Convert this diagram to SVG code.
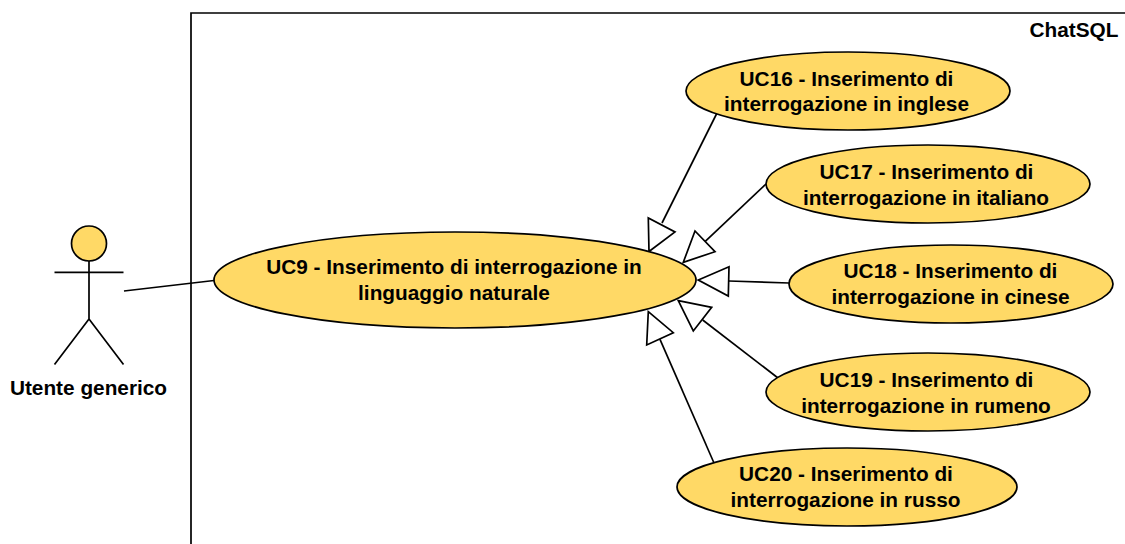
<svg xmlns="http://www.w3.org/2000/svg" width="1125" height="544" viewBox="0 0 1125 544">
<style>
.n{fill:#ffd966;stroke:#000;stroke-width:1.7}
.l{fill:none;stroke:#000;stroke-width:1.7}
.h{fill:#fff;stroke:#000;stroke-width:1.7}
text{font-family:"Liberation Sans",Arial,sans-serif;font-weight:bold;font-size:20.8px;fill:#000;text-anchor:middle}
</style>
<rect width="1125" height="544" fill="#fff"/>
<g id="system"><path class="l" d="M191 544V13H1125"/><text x="1074" y="37">ChatSQL</text></g>
<g id="connectors">
<path class="l" d="M124 291L214 280.500"/>
<path class="l" d="M717 113L662 223"/><polygon class="h" points="649,251.500 648.300,218 675,232"/>
<path class="l" d="M766 184L705 241.700"/><polygon class="h" points="683.300,262.300 695,231 715,251.700"/>
<path class="l" d="M789 283L729 281"/><polygon class="h" points="698.300,280 729,266.700 728.300,296"/>
<path class="l" d="M778 378L702.700 320"/><polygon class="h" points="678.300,300.700 711.700,307.300 693.300,331"/>
<path class="l" d="M714 463L660 339.300"/><polygon class="h" points="648.300,311.700 673.300,332.700 646.700,345"/>
</g>
<g id="actor"><circle class="n" cx="89" cy="243.500" r="17.500"/><path class="l" d="M89 261V319M54.500 272.300H123.500M89 319L54.500 364.500M89 319L123.500 364.500"/><text x="88.500" y="395">Utente generico</text></g>
<g id="uc9"><ellipse class="n" cx="455" cy="280" rx="241" ry="48"/><text x="454" y="274">UC9 - Inserimento di interrogazione in</text><text x="454" y="300">linguaggio naturale</text></g>
<g id="uc16"><ellipse class="n" cx="848" cy="91" rx="162" ry="39"/><text x="846.500" y="86">UC16 - Inserimento di</text><text x="846.500" y="111">interrogazione in inglese</text></g>
<g id="uc17"><ellipse class="n" cx="928" cy="184" rx="162" ry="39"/><text x="926.500" y="179">UC17 - Inserimento di</text><text x="926" y="205">interrogazione in italiano</text></g>
<g id="uc18"><ellipse class="n" cx="951" cy="284" rx="162" ry="39"/><text x="950.500" y="278">UC18 - Inserimento di</text><text x="950.500" y="304">interrogazione in cinese</text></g>
<g id="uc19"><ellipse class="n" cx="928" cy="392" rx="162" ry="39"/><text x="926.500" y="387">UC19 - Inserimento di</text><text x="926" y="413">interrogazione in rumeno</text></g>
<g id="uc20"><ellipse class="n" cx="847" cy="487" rx="170" ry="39"/><text x="846" y="481">UC20 - Inserimento di</text><text x="845.500" y="507">interrogazione in russo</text></g>
</svg>
